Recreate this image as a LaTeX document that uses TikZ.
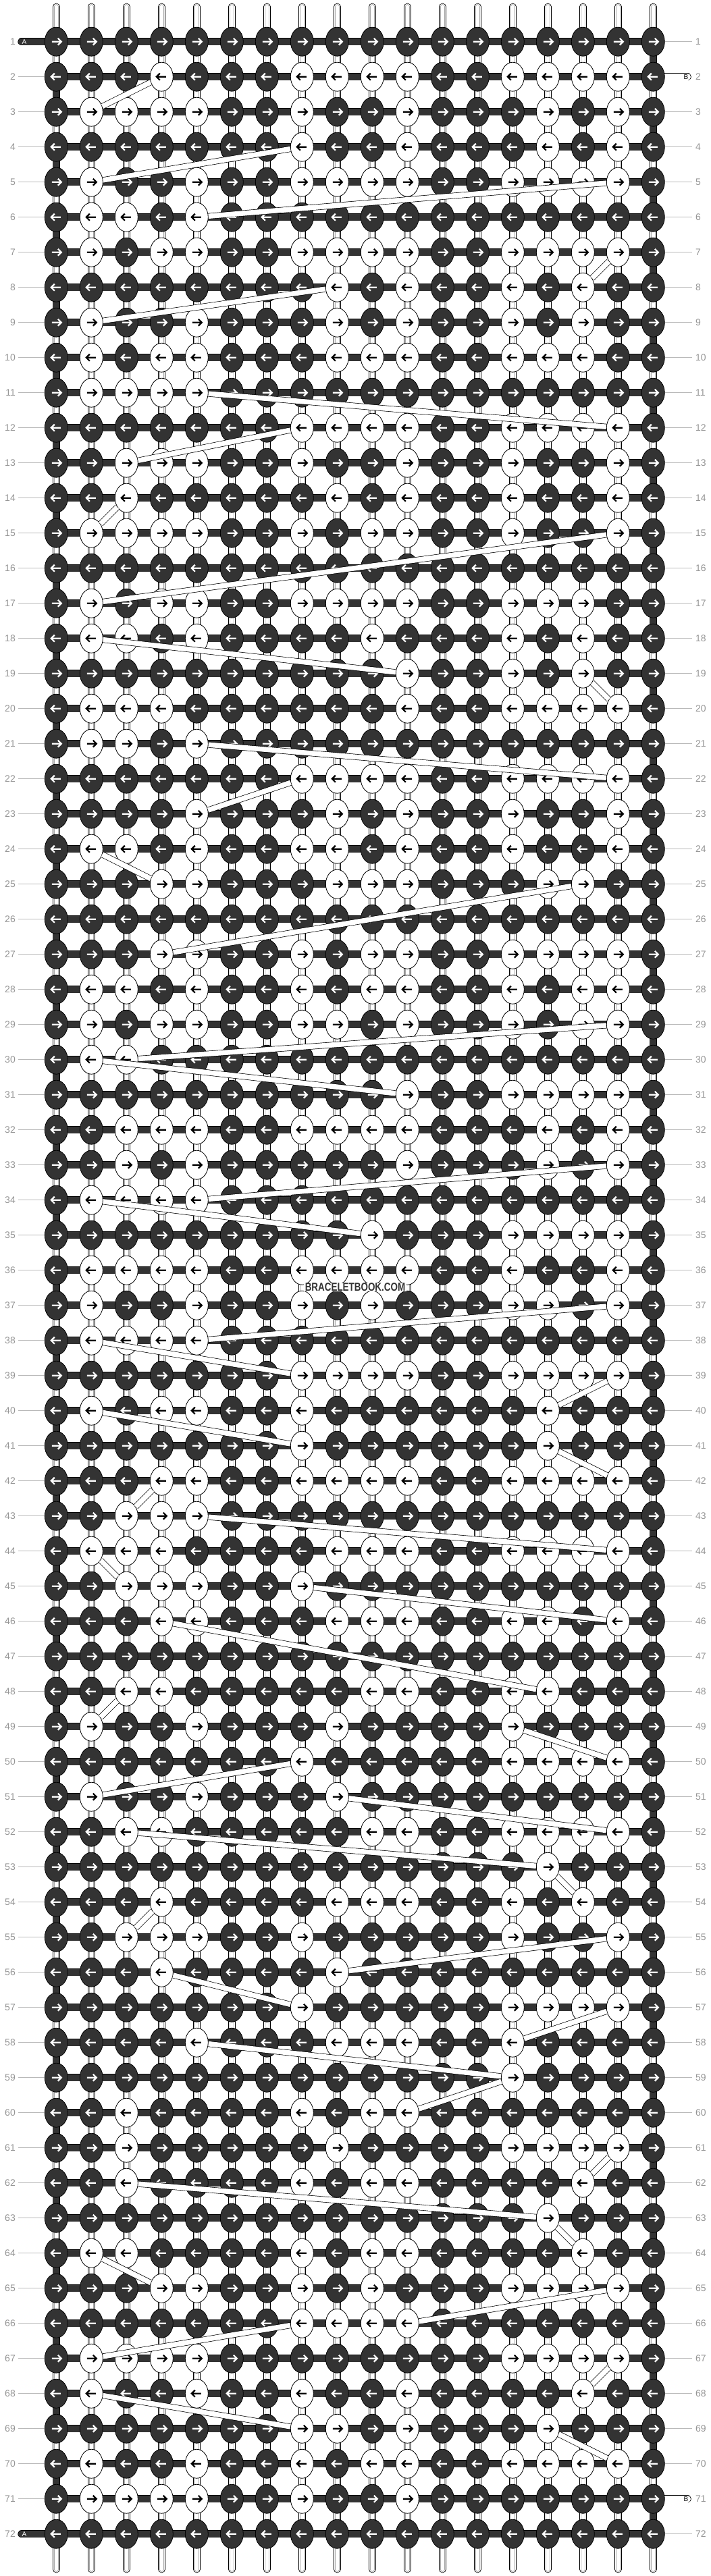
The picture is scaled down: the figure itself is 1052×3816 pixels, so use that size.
\documentclass[tikz,border=0pt]{standalone}
\usepackage{fontspec}
\setmainfont{Liberation Sans}
\newfontfamily\wmfont{Liberation Sans}[FakeStretch=0.79]
\usetikzlibrary{shapes.geometric}
\definecolor{dk}{RGB}{51,51,51}
\definecolor{lbl}{RGB}{150,150,150}
\definecolor{gln}{RGB}{185,185,185}
\definecolor{thr}{RGB}{170,170,170}
\pgfdeclarelayer{back}\pgfdeclarelayer{bg}
\pgfsetlayers{back,bg,main}
\tikzset{
  knot/.style={ellipse, minimum width=34pt, minimum height=43pt, inner sep=0pt, draw=black, line width=0.8pt},
  knotd/.style={knot, fill=dk},
  knotw/.style={knot, fill=white},
  arw/.style={line width=2.2pt, miter limit=10},
  tubeline/.style={draw=black, line width=0.7pt, double=white, double distance=7.5pt},
  glabL/.style={anchor=east, inner sep=0pt, text=lbl, font=\fontsize{14}{14}\selectfont},
  glabR/.style={anchor=west, inner sep=0pt, text=lbl, font=\fontsize{14}{14}\selectfont},
  gline/.style={draw=gln, line width=1pt},
  barout/.style={draw=black, line width=11.5pt},
  barin/.style={draw=dk, line width=10pt},
  endlab/.style={inner sep=0pt, font=\fontsize{10}{10}\selectfont}
}
\begin{document}
\begin{tikzpicture}[x=1pt,y=-1pt]
\useasboundingbox (0,0) rectangle (1052,3816);
\begin{pgfonlayer}{back}
\fill[white] (0,0) rectangle (1052,3816);
\end{pgfonlayer}
% white knots per row
\foreach \r/\ws in {1/{0},2/{4,8,9,10,11,14,15,16,17},3/{2,3,4,5,8,11,15,17},4/{8,11,15,17},
5/{2,5,8,9,10,11,14,15,16,17},6/{2,3,5},7/{2,4,5,8,9,10,11,14,15,16,17},8/{9,11,14,16},
9/{2,5,9,11,14,16},10/{2,4,5,9,10,11,14,15,16},11/{2,3,4,5},12/{8,9,10,11,14,15,16,17},
13/{3,4,5,8,11,14,17},14/{3,9,11,14,17},15/{2,3,4,5,8,10,11,14,17},16/{0},
17/{2,4,5,8,9,10,11,14,15,16},18/{2,3,5,10,14,16},19/{11,14,16},20/{2,3,4,11,14,15,16,17},
21/{2,3,5},22/{8,9,10,11,14,15,16,17},23/{5,9,11,14,17},24/{2,3,5,8,9,11,14,17},
25/{4,5,9,10,11,15,16},26/{0},27/{4,5,8,10,11,14,15,16,17},28/{2,3,5,8,10,11,14,16,17},
29/{2,4,5,8,9,11,14,16,17},30/{2,3},31/{11,14,15,16,17},32/{3,4,5,8,9,10,11,15,17},
33/{3,5,11,15,17},34/{2,3,4,5},35/{10,14,15,16,17},36/{2,3,4,5,8,9,10,11,14,17},
37/{2,5,8,10,14,15,17},38/{2,3,4,5},39/{8,9,10,11,14,15,16,17},40/{2,4,5,8,15},
41/{8,15},42/{4,5,8,9,10,11,14,15,16,17},43/{3,4,5},44/{2,3,4,9,10,11,14,15,16,17},
45/{3,4,5,8},46/{4,5,9,10,11,14,15,17},47/{0},48/{3,4,10,11,14,15},
49/{2,5,9,14},50/{8,14,15,16,17},51/{2,5,9},52/{3,4,10,11,14,15,16,17},
53/{15},54/{4,9,10,11,14,16},55/{3,4,5,8,14,17},56/{4,9},
57/{8,14,15,16,17},58/{5,9,10,11,14},59/{14},60/{3,8,10,11},
61/{3,9,14,15,16,17},62/{3,8,10,11,16},63/{15},64/{2,3,8,10,11,16},
65/{4,5,8,10,14,15,16,17},66/{8,9,10,11},67/{2,3,4,5,14,15,16,17},68/{2,5,8,11,16},
69/{8,9,11,15},70/{2,5,8,10,11,14,15,16,17},71/{2,3,4,5,8,11},72/{0}}{
  \foreach \c in \ws {\expandafter\gdef\csname w@\r @\c\endcsname{1}}
}
% knots and arrows
\foreach \r in {1,...,72}{
  \foreach \c in {1,...,18}{
    \ifcsname w@\r @\c\endcsname
      \node[knotw] (k-\r-\c) at ({83.3+52*(\c-1)},{61.7+52*(\r-1)}) {};
      \ifodd\r\relax
        \draw[arw,black] (k-\r-\c.center) ++(-6.5,0) -- ++(14,0) ++(-5,-5) -- ++(5,5) -- ++(-5,5);
      \else
        \draw[arw,black] (k-\r-\c.center) ++(6.5,0) -- ++(-14,0) ++(5,-5) -- ++(-5,5) -- ++(5,5);
      \fi
    \else
      \node[knotd] (k-\r-\c) at ({83.3+52*(\c-1)},{61.7+52*(\r-1)}) {};
      \ifodd\r\relax
        \draw[arw,white] (k-\r-\c.center) ++(-6.5,0) -- ++(14,0) ++(-5,-5) -- ++(5,5) -- ++(-5,5);
      \else
        \draw[arw,white] (k-\r-\c.center) ++(6.5,0) -- ++(-14,0) ++(5,-5) -- ++(-5,5) -- ++(5,5);
      \fi
    \fi
  }
}
% thread end coordinates
\foreach \c in {1,...,18}{
  \coordinate (vt-\c) at ({83.3+52*(\c-1)},10);
  \coordinate (vb-\c) at ({83.3+52*(\c-1)},3806);
}
\foreach \r in {1,72}{\coordinate (ae-\r) at (32,{61.7+52*(\r-1)});}
\foreach \r in {2,71}{\coordinate (be-\r) at (1018,{61.7+52*(\r-1)});}
\begin{pgfonlayer}{bg}
  % vertical threads
  \foreach \c in {1,...,18}{
    \draw[black, line width=10.5pt, line cap=round] (vt-\c) -- (vb-\c);
    \draw[white, line width=9pt, line cap=round] (vt-\c) -- (vb-\c);
    \draw[thr, line width=7.5pt, line cap=round] (vt-\c) -- (vb-\c);
    \draw[white, line width=5.5pt, line cap=round] (vt-\c) -- (vb-\c);
  }
  % horizontal working thread
  \foreach \r in {1,...,72}{
    \draw[barout] (k-\r-1.center) -- (k-\r-18.center);
    \draw[barin] (k-\r-1.center) -- (k-\r-18.center);
  }
  % turns at the edges
  \foreach \r in {2,4,...,70}{
    \pgfmathtruncatemacro\rr{\r+1}
    \draw[barout] (k-\r-1.center) -- (k-\rr-1.center);
    \draw[barin] (k-\r-1.center) -- (k-\rr-1.center);
  }
  \foreach \r in {1,3,...,71}{
    \pgfmathtruncatemacro\rr{\r+1}
    \draw[barout] (k-\r-18.center) -- (k-\rr-18.center);
    \draw[barin] (k-\r-18.center) -- (k-\rr-18.center);
  }
  % thread A and B ends
  \foreach \r in {1,72}{
    \draw[barout, line cap=round] (ae-\r) -- (k-\r-1.center);
    \draw[barin, line cap=round] (ae-\r) -- (k-\r-1.center);
  }
  \foreach \r in {2,71}{
    \draw[barout, line cap=round] (k-\r-18.center) -- (be-\r);
    \draw[white, line width=10pt, line cap=round] (k-\r-18.center) -- (be-\r);
  }
\end{pgfonlayer}
% thread B passing behind
\foreach \a/\b/\p/\q in {2/4/3/2, 4/8/5/2, 5/17/6/5, 7/17/8/16, 8/9/9/2, 11/5/12/17, 12/8/13/3,
14/3/15/2, 15/17/17/2, 18/2/19/11, 19/16/20/17, 21/5/22/17, 22/8/23/5, 24/2/25/4, 25/16/27/4,
29/17/30/3, 30/2/31/11, 33/17/34/5, 34/2/35/10, 37/17/38/5, 38/2/39/8, 39/17/40/15, 40/2/41/8,
41/15/42/17, 42/4/43/3, 43/5/44/17, 44/2/45/3, 45/8/46/17, 46/4/48/15, 48/3/49/2, 49/14/50/17,
50/8/51/2, 51/9/52/17, 52/3/53/15, 53/15/54/16, 54/4/55/3, 55/17/56/9, 56/4/57/8, 57/17/58/14,
58/5/59/14, 59/14/60/11, 61/17/62/16, 62/3/63/15, 63/15/64/16, 64/2/65/4, 65/17/66/11,
66/8/67/2, 67/17/68/16, 68/2/69/8, 69/15/70/17}{
  \draw[tubeline] (k-\a-\b) -- (k-\p-\q);
}
% end labels
\foreach \r in {1,72}{\node[endlab, text=white] (A-\r) at (36,{61.7+52*(\r-1)}) {A};}
\foreach \r in {2,71}{\node[endlab, text=black] (B-\r) at (1016,{61.7+52*(\r-1)}) {B};}
% row numbers
\foreach \r in {1,...,72}{
  \node[glabL] (ll-\r) at (23,{61.7+52*(\r-1)}) {\r};
  \node[glabR] (lr-\r) at (1030,{61.7+52*(\r-1)}) {\r};
}
\foreach \r in {2,...,71}{
  \coordinate (gl-\r) at (27,{61.7+52*(\r-1)});
  \draw[gline] (gl-\r) -- (k-\r-1);
}
\foreach \r in {1,3,4,...,70,72}{
  \coordinate (gr-\r) at (1025,{61.7+52*(\r-1)});
  \draw[gline] (k-\r-18) -- (gr-\r);
}
% watermark
\node[fill=white, inner xsep=1.5pt, inner ysep=0.3pt, text=dk, font=\wmfont\bfseries\fontsize{17}{17}\selectfont] (wm) at (526,1907) {BRACELETBOOK.COM};
\end{tikzpicture}
\end{document}
